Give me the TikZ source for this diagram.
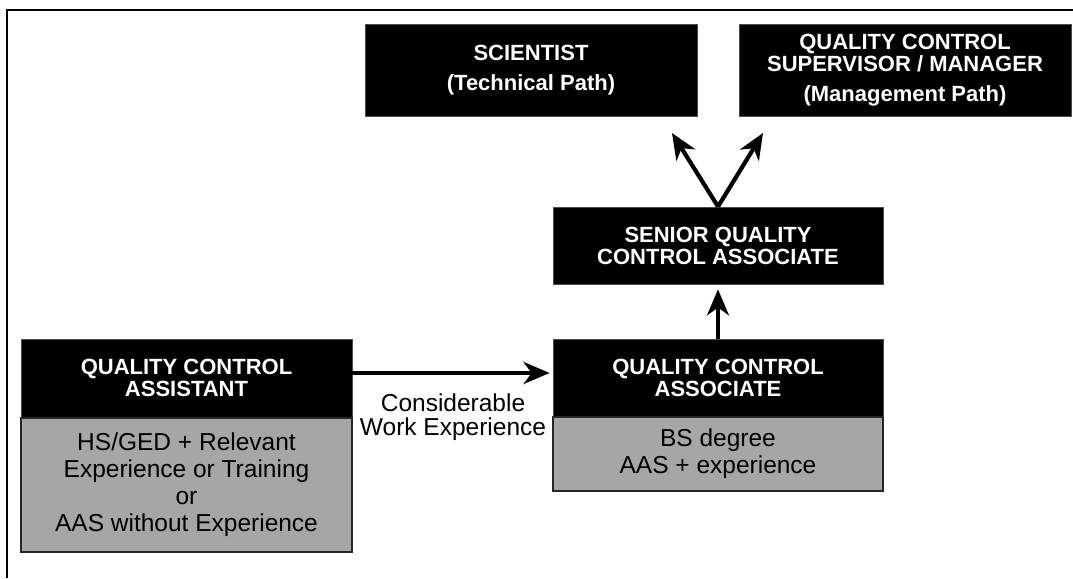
\documentclass[tikz,border=0pt]{standalone}
\usepackage{fontspec}
\setmainfont{Liberation Sans}
\usetikzlibrary{arrows.meta}
\definecolor{boxgray}{HTML}{A6A6A6}
\tikzset{
  hdr/.style={fill=black, draw=black!70, line width=0.8pt, text=white, align=center, inner sep=0pt,
    font={\fontsize{22}{22}\selectfont\bfseries}},
  body/.style={fill=boxgray, draw=black!85, line width=1.8pt, text=black, align=center, inner sep=0pt,
    font={\fontsize{24.5}{27}\selectfont}},
  lbl/.style={align=center, inner sep=0pt, font={\fontsize{24.5}{24}\selectfont}},
  conn/.style={line width=4.2pt, -{Stealth[length=26pt,width=22pt,inset=8pt]}},
  frame/.style={line width=2.8pt}
}
\begin{document}
\begin{tikzpicture}[x=1pt,y=-1pt]
\useasboundingbox (0,0) rectangle (1073,578);
\fill[white] (0,0) rectangle (1073,578);
\draw[frame] (1073,10) -- (7,10) -- (7,578);

% top boxes
\node[hdr, minimum width=332pt, minimum height=92pt] (sci) at (531,70)
  {SCIENTIST\\[8pt](Technical Path)};
\node[hdr, minimum width=332pt, minimum height=92pt] (sup) at (905,70)
  {QUALITY CONTROL\\SUPERVISOR / MANAGER\\[8pt](Management Path)};

% senior
\node[hdr, minimum width=330pt, minimum height=77pt] (senior) at (718,245.5)
  {SENIOR QUALITY\\CONTROL ASSOCIATE};

% associate
\node[hdr, minimum width=330pt, minimum height=78pt] (assocH) at (718,378)
  {QUALITY CONTROL\\ASSOCIATE};
\node[body, minimum width=330pt, minimum height=74pt] (assocB) at (718,454)
  {BS degree\\AAS + experience};

% assistant
\node[hdr, minimum width=331pt, minimum height=78pt] (assistH) at (186.5,378)
  {QUALITY CONTROL\\ASSISTANT};
\node[body, minimum width=331pt, minimum height=134pt] (assistB) at (186.5,485)
  {HS/GED + Relevant\\Experience or Training\\or\\AAS without Experience};

% label
\node[lbl] (work) at (453,417) {Considerable\\Work Experience};

% connectors
\coordinate (tipL) at (672,133);
\coordinate (tipR) at (763,133);
\draw[conn, shorten >=3pt] ([yshift=5pt]assistH.east) -- ([yshift=5pt]assocH.west);
\draw[conn, shorten >=5pt] (assocH.north) -- (senior.south);
\draw[conn] (senior.north) -- (tipL);
\draw[conn] (senior.north) -- (tipR);
\end{tikzpicture}
\end{document}
